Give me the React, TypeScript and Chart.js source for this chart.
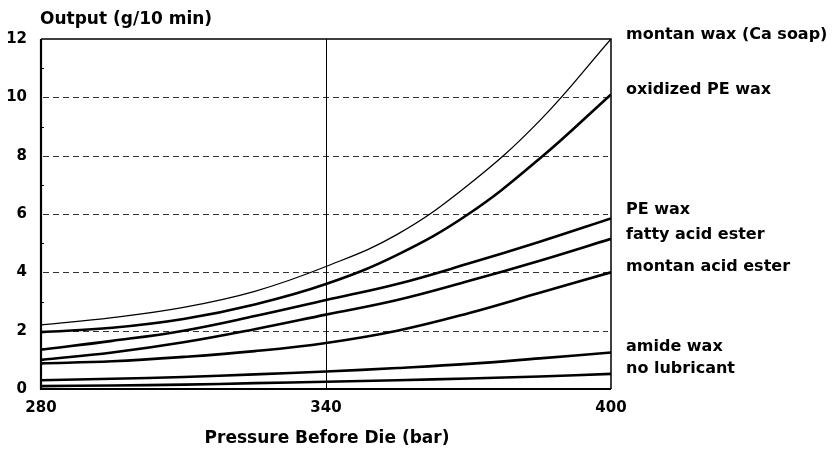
import React, { useEffect, useRef } from "react";
import { Chart, registerables } from "chart.js";

Chart.register(...registerables);

// ---- data ----
const pressures = [280, 295, 310, 325, 340, 355, 370, 385, 400];
const montanWaxCaSoap = [2.2, 2.45, 2.8, 3.35, 4.2, 5.3, 7.0, 9.2, 12.0];
const oxidizedPEWax = [1.95, 2.1, 2.4, 2.9, 3.6, 4.6, 6.0, 7.9, 10.1];
const peWax = [1.35, 1.65, 2.0, 2.5, 3.05, 3.6, 4.3, 5.05, 5.85];
const fattyAcidEster = [1.0, 1.25, 1.6, 2.05, 2.55, 3.05, 3.7, 4.4, 5.15];
const montanAcidEster = [0.88, 0.95, 1.1, 1.3, 1.58, 2.0, 2.6, 3.3, 4.0];
const amideWax = [0.3, 0.35, 0.41, 0.5, 0.6, 0.72, 0.86, 1.05, 1.25];
const noLubricant = [0.1, 0.12, 0.15, 0.2, 0.25, 0.3, 0.36, 0.43, 0.52];

const seriesNames = [
  "montan wax (Ca soap)",
  "oxidized PE wax",
  "PE wax",
  "fatty acid ester",
  "montan acid ester",
  "amide wax",
  "no lubricant",
];
const seriesValues = [
  montanWaxCaSoap,
  oxidizedPEWax,
  peWax,
  fattyAcidEster,
  montanAcidEster,
  amideWax,
  noLubricant,
];
// y-value (in axis units) where each right-hand label is centred
const labelAnchors = [12.15, 10.25, 6.15, 5.3, 4.18, 1.44, 0.68];

const xTicks = [280, 340, 400];
const yTicks = [0, 2, 4, 6, 8, 10, 12];
const dashedGrid = [2, 4, 6, 8, 10];
const verticalRefs = [340];
const minorY = [1, 3, 5, 7, 9, 11];

const yTitle = "Output (g/10 min)";
const xTitle = "Pressure Before Die (bar)";

const FONT = '"DejaVu Sans", "Liberation Sans", Arial, sans-serif';

const decorPlugin = {
  id: "decor",
  beforeDatasetsDraw(chart: any) {
    const { ctx, chartArea: a, scales } = chart;
    const x = scales.x;
    const y = scales.y;
    ctx.save();
    ctx.strokeStyle = "#333";
    ctx.lineWidth = 1;
    ctx.setLineDash([6, 4]);
    dashedGrid.forEach((v) => {
      const py = Math.round(y.getPixelForValue(v)) + 0.5;
      ctx.beginPath();
      ctx.moveTo(a.left + 2, py);
      ctx.lineTo(a.right - 3, py);
      ctx.stroke();
    });
    ctx.setLineDash([]);
    ctx.strokeStyle = "#000";
    verticalRefs.forEach((v) => {
      const px = Math.round(x.getPixelForValue(v)) + 0.5;
      ctx.beginPath();
      ctx.moveTo(px, a.top);
      ctx.lineTo(px, a.bottom);
      ctx.stroke();
    });
    // minor ticks inside left axis
    minorY.forEach((v) => {
      const py = Math.round(y.getPixelForValue(v)) + 0.5;
      ctx.beginPath();
      ctx.moveTo(a.left, py);
      ctx.lineTo(a.left + 3, py);
      ctx.stroke();
    });
    ctx.restore();
  },
  afterDatasetsDraw(chart: any) {
    const { ctx, chartArea: a } = chart;
    ctx.save();
    ctx.strokeStyle = "#000";
    ctx.lineWidth = 1.5;
    ctx.beginPath();
    ctx.moveTo(a.left, a.top);
    ctx.lineTo(a.right, a.top);
    ctx.lineTo(a.right, a.bottom);
    ctx.stroke();
    ctx.lineWidth = 2.2;
    ctx.beginPath();
    ctx.moveTo(a.left, a.top);
    ctx.lineTo(a.left, a.bottom);
    ctx.lineTo(a.right, a.bottom);
    ctx.stroke();
    ctx.restore();
  },
  afterDraw(chart: any) {
    const { ctx, chartArea: a, scales } = chart;
    const y = scales.y;
    ctx.save();
    ctx.fillStyle = "#000";
    ctx.textBaseline = "middle";
    ctx.textAlign = "left";
    ctx.font = `bold 16px ${FONT}`;
    seriesNames.forEach((name, i) => {
      ctx.fillText(name, a.right + 15, y.getPixelForValue(labelAnchors[i]));
    });
    ctx.font = `bold 17px ${FONT}`;
    ctx.fillText(yTitle, a.left - 1, 20);
    ctx.textAlign = "center";
    ctx.fillText(xTitle, (a.left + a.right) / 2 + 1, 439);
    ctx.restore();
  },
};

export default function App() {
  const ref = useRef<HTMLCanvasElement | null>(null);

  useEffect(() => {
    if (!ref.current) return;
    const datasets = seriesNames.map((name, i) => ({
      label: name,
      data: pressures.map((p, j) => ({ x: p, y: seriesValues[i][j] })),
      borderColor: "#000",
      borderWidth: i === 0 ? 1.3 : 2.6,
      pointRadius: 0,
      fill: false,
      tension: 0.4,
    }));

    const chart = new Chart(ref.current, {
      type: "line",
      data: { datasets },
      plugins: [decorPlugin],
      options: {
        animation: false,
        responsive: false,
        devicePixelRatio: 1,
        layout: { padding: { top: 39, right: 225, left: 0, bottom: 0 } },
        plugins: {
          legend: { display: false },
          tooltip: { enabled: false },
          title: { display: false },
        },
        scales: {
          x: {
            type: "linear",
            min: 280,
            max: 400,
            afterBuildTicks: (s: any) => {
              s.ticks = xTicks.map((v) => ({ value: v }));
            },
            afterFit: (s: any) => {
              s.height = 60;
            },
            grid: { display: false, drawTicks: false },
            border: { display: false },
            ticks: {
              color: "#000",
              padding: 10,
              maxRotation: 0,
              font: { family: FONT, size: 15, weight: "bold" },
            },
          },
          y: {
            type: "linear",
            min: 0,
            max: 12,
            afterBuildTicks: (s: any) => {
              s.ticks = yTicks.map((v) => ({ value: v }));
            },
            afterFit: (s: any) => {
              s.width = 41;
            },
            grid: { display: false, drawTicks: false },
            border: { display: false },
            ticks: {
              color: "#000",
              padding: 14,
              font: { family: FONT, size: 15, weight: "bold" },
            },
          },
        },
      },
    });
    return () => chart.destroy();
  }, []);

  return (
    <div style={{ position: "absolute", left: 0, top: 0, width: 836, height: 449, background: "#fff" }}>
      <canvas ref={ref} width={836} height={449} style={{ display: "block" }} />
    </div>
  );
}
